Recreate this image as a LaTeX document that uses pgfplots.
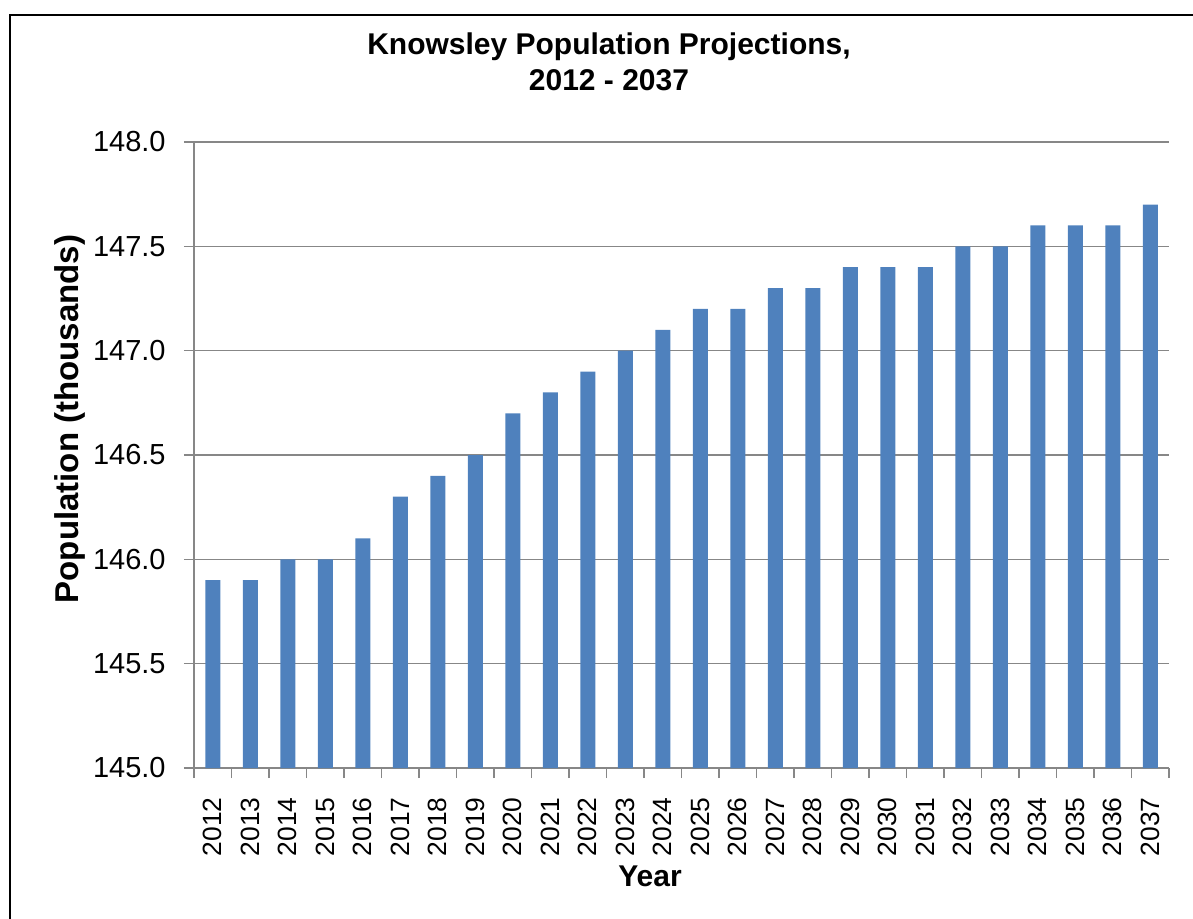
\documentclass[border=0pt]{standalone}
\usepackage{pgfplots}
\pgfplotsset{compat=1.18}
\usepackage{fontspec}
\setmainfont{Liberation Sans}

\definecolor{barblue}{HTML}{4F81BD}
\definecolor{gridgray}{HTML}{878787}

\pgfplotstableread{
idx year pop
0  2012 145.9
1  2013 145.9
2  2014 146.0
3  2015 146.0
4  2016 146.1
5  2017 146.3
6  2018 146.4
7  2019 146.5
8  2020 146.7
9  2021 146.8
10 2022 146.9
11 2023 147.0
12 2024 147.1
13 2025 147.2
14 2026 147.2
15 2027 147.3
16 2028 147.3
17 2029 147.4
18 2030 147.4
19 2031 147.4
20 2032 147.5
21 2033 147.5
22 2034 147.6
23 2035 147.6
24 2036 147.6
25 2037 147.7
}\popdata

\begin{document}
\begin{tikzpicture}
\useasboundingbox (0,0) rectangle (596.5pt,-459.5pt);
% outer chart frame (only left and top visible)
\draw[line width=1pt] (5pt,-480pt) -- (5pt,-7.5pt) -- (620pt,-7.5pt);

\begin{axis}[
  at={(97pt,-384pt)}, anchor=south west,
  scale only axis,
  width=487.5pt, height=313pt,
  font=\fontsize{14.5}{17}\selectfont,
  /pgf/number format/assume math mode=true,
  ybar, bar width=7.5pt, bar shift=0pt,
  xmin=-0.5, xmax=25.5,
  ymin=145, ymax=148,
  ytick={145,145.5,...,148},
  yticklabel={\pgfmathprintnumber[fixed,fixed zerofill,precision=1]{\tick}},
  xtick={0,...,25},
  xticklabels from table={\popdata}{year},
  minor xtick={-0.5,0.5,...,25.5},
  axis x line*=bottom, axis y line*=left,
  axis line style={gridgray, line width=0.7pt, -},
  tick align=outside,
  major tick length=5pt,
  minor tick length=5pt,
  every tick/.style={gridgray, line width=0.6pt},
  x tick style={draw=none},
  minor x tick style={draw=gridgray, line width=0.6pt},
  ymajorgrids,
  grid style={gridgray, line width=0.6pt},
  yticklabel style={anchor=east, inner sep=0pt, xshift=-9pt},
  xticklabel style={font=\fontsize{13.2}{16}\selectfont, yshift=-9.5pt,
    rotate=90, anchor=east, inner sep=0pt},
  title={Knowsley Population Projections,\\2012 - 2037},
  title style={font=\fontsize{15}{18}\selectfont\bfseries, align=center,
    anchor=north, inner sep=0pt, at={(rel axis cs:0.4256,1.1565)}},
  ylabel={Population (thousands)},
  ylabel style={font=\fontsize{16.5}{19}\selectfont\bfseries, anchor=center,
    inner sep=0pt, at={(rel axis cs:-0.127,0.5575)}},
  xlabel={Year},
  xlabel style={font=\fontsize{15}{18}\selectfont\bfseries, anchor=center,
    inner sep=0pt, at={(rel axis cs:0.4677,-0.1725)}},
]
\addplot[fill=barblue, draw=none] table[x=idx, y=pop] {\popdata};
\end{axis}
\end{tikzpicture}
\end{document}
